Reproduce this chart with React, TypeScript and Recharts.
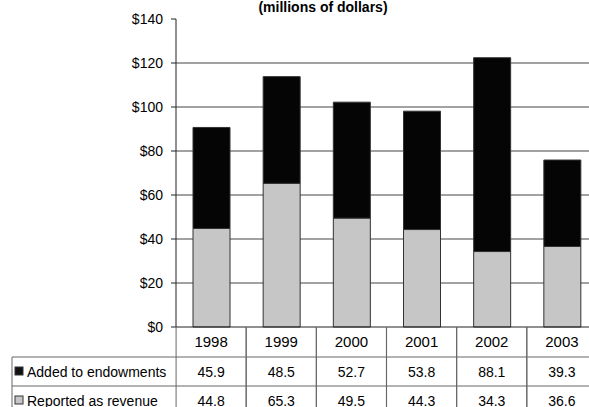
import { BarChart, Bar, XAxis, YAxis, CartesianGrid } from "recharts"

const years = ["1998", "1999", "2000", "2001", "2002", "2003"]
const addedToEndowments = [45.9, 48.5, 52.7, 53.8, 88.1, 39.3]
const reportedAsRevenue = [44.8, 65.3, 49.5, 44.3, 34.3, 36.6]
const yTicks = [0, 20, 40, 60, 80, 100, 120, 140]
const gridValues = [20, 40, 60, 80, 100, 120]

const data = years.map((year, i) => ({
    year,
    endow: addedToEndowments[i],
    revenue: reportedAsRevenue[i],
}))

const FONT = "'Liberation Sans', Arial, sans-serif"
const COL_HALF = 35
const LINE = "#666"

// draws one table column (year + both values) under each category, plus the row labels for the first one
const TableTick = (props: any) => {
    const { x, y, payload } = props
    const i = payload.index
    const left = x - COL_HALF
    const right = x + COL_HALF
    return (
        <g fontFamily={FONT} fill="#000">
            <text x={x} y={y + 20} textAnchor="middle" fontSize={15}>{years[i]}</text>
            <text x={x} y={y + 50} textAnchor="middle" fontSize={14}>{addedToEndowments[i].toFixed(1)}</text>
            <text x={x} y={y + 79} textAnchor="middle" fontSize={14}>{reportedAsRevenue[i].toFixed(1)}</text>
            <line x1={left} y1={y} x2={left} y2={y + 90} stroke={LINE} />
            <line x1={right} y1={y} x2={right} y2={y + 90} stroke={LINE} />
            <line x1={left} y1={y + 30} x2={right} y2={y + 30} stroke={LINE} />
            <line x1={left} y1={y + 59} x2={right} y2={y + 59} stroke={LINE} />
            <line x1={left} y1={y + 88} x2={right} y2={y + 88} stroke={LINE} />
            {i === 0 && (
                <g>
                    <line x1={12} y1={y + 30} x2={left} y2={y + 30} stroke={LINE} />
                    <line x1={12} y1={y + 59} x2={left} y2={y + 59} stroke={LINE} />
                    <line x1={12} y1={y + 88} x2={left} y2={y + 88} stroke={LINE} />
                    <line x1={12} y1={y + 30} x2={12} y2={y + 90} stroke={LINE} />
                    <rect x={15} y={y + 40} width={8} height={8} fill="#111" stroke="#333" />
                    <rect x={15} y={y + 69} width={8} height={8} fill="#c6c6c6" stroke="#333" />
                    <text x={27} y={y + 50} fontSize={14}>Added to endowments</text>
                    <text x={27} y={y + 79} fontSize={14}>Reported as revenue</text>
                </g>
            )}
        </g>
    )
}

export default function App() {
    return (
        <div
            style={{
                position: "fixed",
                left: 0,
                top: 0,
                width: 589,
                height: 407,
                overflow: "hidden",
                background: "#fff",
                fontFamily: FONT,
            }}
        >
            <div
                style={{
                    position: "absolute",
                    left: 0,
                    width: 646,
                    top: -1,
                    textAlign: "center",
                    fontWeight: "bold",
                    fontSize: 14,
                    lineHeight: "16px",
                }}
            >
                (millions of dollars)
            </div>
            <BarChart width={600} height={430} data={data} margin={{ top: 19, right: 3, left: 0, bottom: 0 }}>
                <CartesianGrid vertical={false} horizontalValues={gridValues} stroke="#444" />
                <XAxis
                    dataKey="year"
                    height={103}
                    interval={0}
                    tickLine={false}
                    tickSize={0}
                    tickMargin={0}
                    axisLine={{ stroke: "#222" }}
                    tick={<TableTick />}
                />
                <YAxis
                    width={176}
                    domain={[0, 140]}
                    ticks={yTicks}
                    interval={0}
                    tickFormatter={(v) => `$${v}`}
                    tickSize={5}
                    tickMargin={8}
                    axisLine={{ stroke: "#222" }}
                    tickLine={{ stroke: "#222" }}
                    tick={{ fill: "#000", fontSize: 14, fontFamily: FONT }}
                />
                <Bar dataKey="revenue" stackId="a" fill="#c6c6c6" stroke="#333" barSize={37} isAnimationActive={false} />
                <Bar dataKey="endow" stackId="a" fill="#050505" stroke="#333" barSize={37} isAnimationActive={false} />
            </BarChart>
        </div>
    )
}
